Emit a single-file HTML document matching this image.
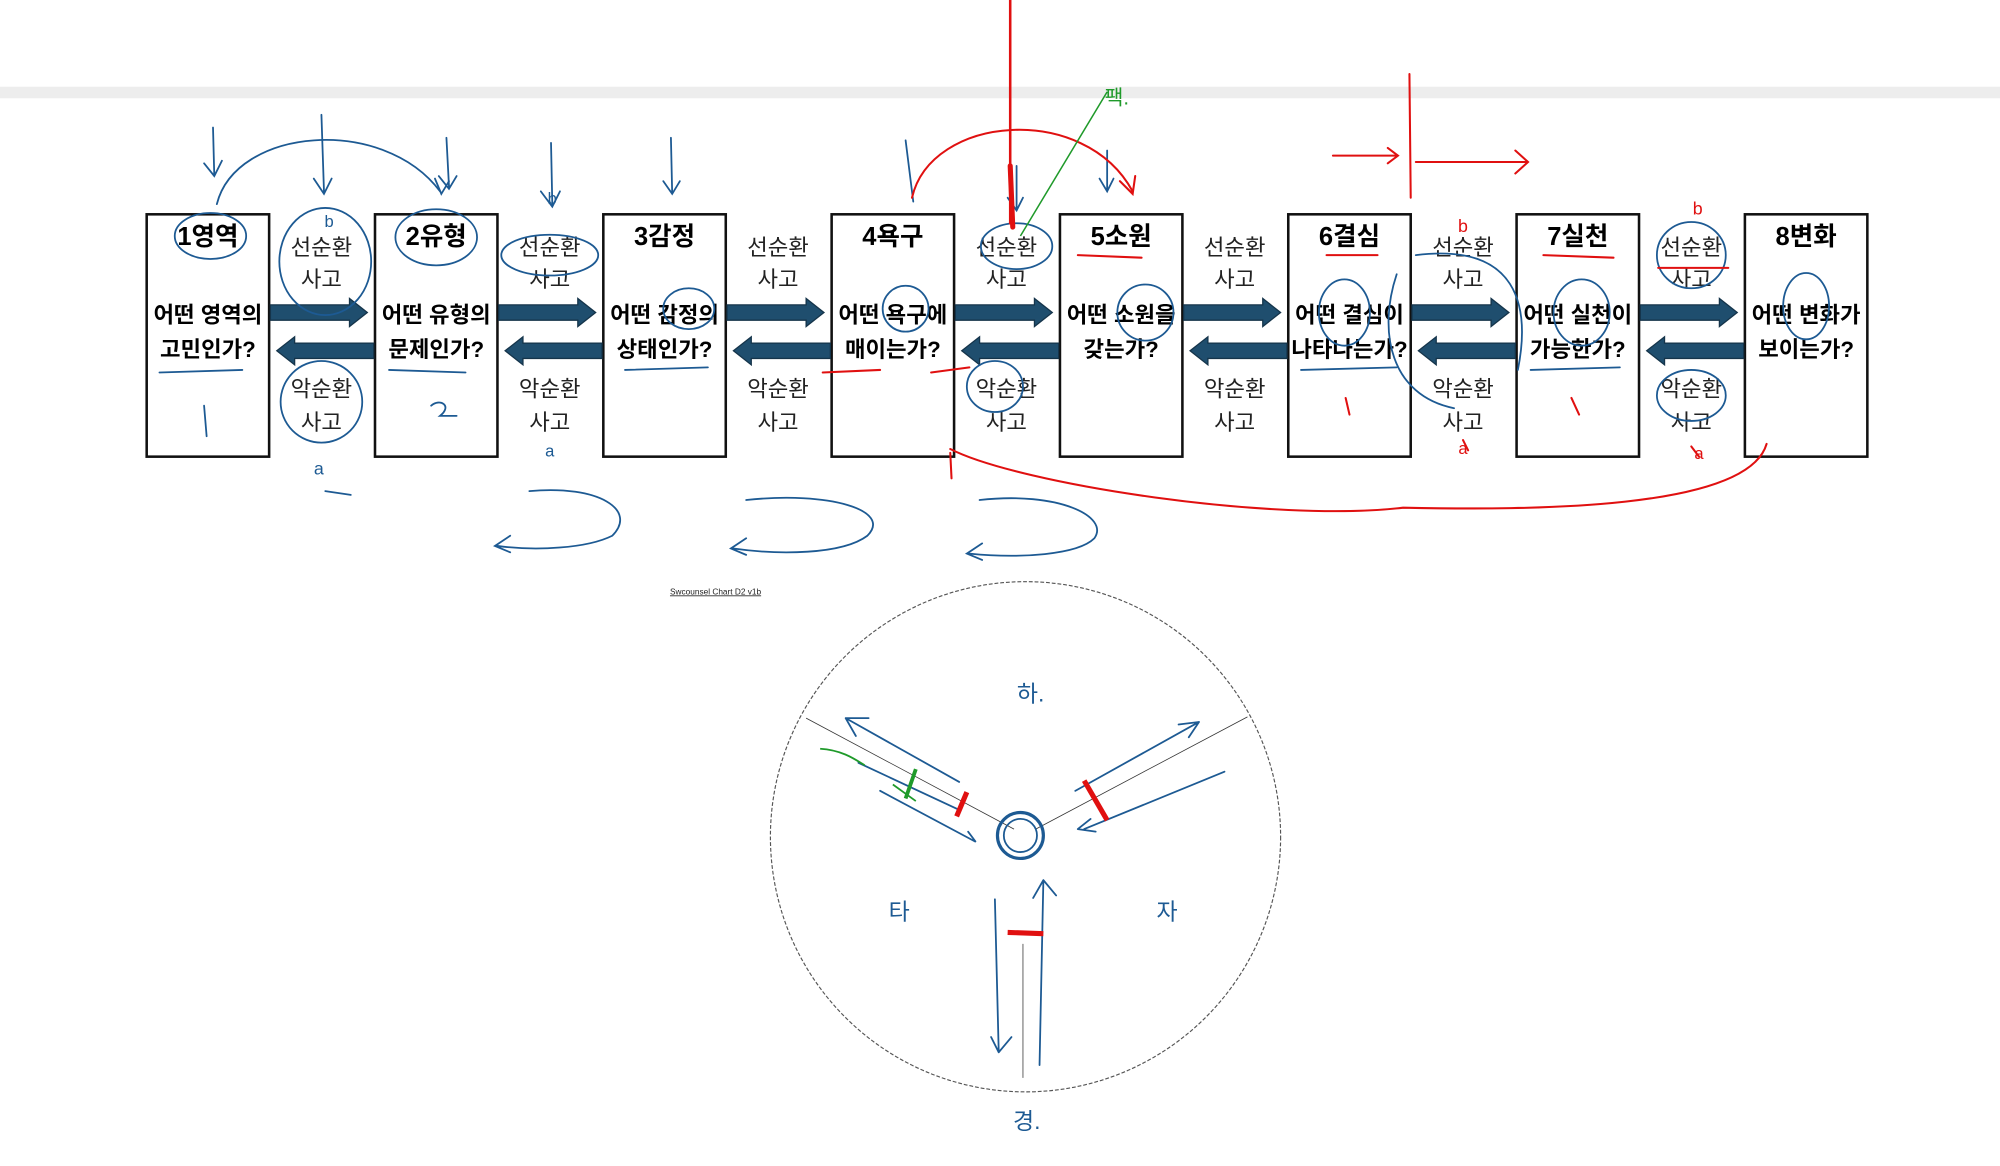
<!DOCTYPE html>
<html><head><meta charset="utf-8"><style>
html,body{margin:0;padding:0;background:#fff;}
svg{display:block;}
text{font-family:"Liberation Sans","Noto Sans CJK KR",sans-serif;}
.t{font-size:20px;font-weight:bold;fill:#000;text-anchor:middle;}
.q{font-size:17.5px;font-weight:bold;fill:#000;text-anchor:middle;}
.c{font-size:17.5px;fill:#222;text-anchor:middle;}
.b{fill:none;stroke:#1d5a93;stroke-width:1.4;stroke-linecap:round;}
.r{fill:none;stroke:#e01010;stroke-width:1.6;stroke-linecap:round;}
.hb{font-family:"Liberation Sans","Noto Sans CJK KR",sans-serif;fill:#1d5a93;font-size:18px;}
</style></head><body>
<svg width="2000" height="1166" viewBox="0 0 1568 914.1" xmlns="http://www.w3.org/2000/svg">
<defs>
<g id="ra"><path d="M0,-6 L62,-6 L62,-11 L76,0 L62,11 L62,6 L0,6 Z" fill="#1f4e6e" stroke="#15344a" stroke-width="1"/></g>
<g id="la"><path d="M76,-6 L14,-6 L14,-11 L0,0 L14,11 L14,6 L76,6 Z" fill="#1f4e6e" stroke="#15344a" stroke-width="1"/></g>
</defs>
<rect x="0" y="68" width="1568" height="9" fill="#ededed"/>

<!-- boxes -->
<g stroke="#111" stroke-width="2" fill="#fff">
<rect x="115" y="168" width="96" height="190"/>
<rect x="294" y="168" width="96" height="190"/>
<rect x="473" y="168" width="96" height="190"/>
<rect x="652" y="168" width="96" height="190"/>
<rect x="831" y="168" width="96" height="190"/>
<rect x="1010" y="168" width="96" height="190"/>
<rect x="1189" y="168" width="96" height="190"/>
<rect x="1368" y="168" width="96" height="190"/>
</g>
<g>
<text class="t" x="163" y="192">1영역</text><text class="q" x="163" y="253">어떤 영역의</text><text class="q" x="163" y="280">고민인가?</text>
<text class="t" x="342" y="192">2유형</text><text class="q" x="342" y="253">어떤 유형의</text><text class="q" x="342" y="280">문제인가?</text>
<text class="t" x="521" y="192">3감정</text><text class="q" x="521" y="253">어떤 감정의</text><text class="q" x="521" y="280">상태인가?</text>
<text class="t" x="700" y="192">4욕구</text><text class="q" x="700" y="253">어떤 욕구에</text><text class="q" x="700" y="280">매이는가?</text>
<text class="t" x="879" y="192">5소원</text><text class="q" x="879" y="253">어떤 소원을</text><text class="q" x="879" y="280">갖는가?</text>
<text class="t" x="1058" y="192">6결심</text><text class="q" x="1058" y="253">어떤 결심이</text><text class="q" x="1058" y="280">나타나는가?</text>
<text class="t" x="1237" y="192">7실천</text><text class="q" x="1237" y="253">어떤 실천이</text><text class="q" x="1237" y="280">가능한가?</text>
<text class="t" x="1416" y="192">8변화</text><text class="q" x="1416" y="253">어떤 변화가</text><text class="q" x="1416" y="280">보이는가?</text>
</g>
<!-- arrows and cycle labels -->
<g>
<use href="#ra" x="212" y="245"/><use href="#la" x="217" y="275"/>
<use href="#ra" x="391" y="245"/><use href="#la" x="396" y="275"/>
<use href="#ra" x="570" y="245"/><use href="#la" x="575" y="275"/>
<use href="#ra" x="749" y="245"/><use href="#la" x="754" y="275"/>
<use href="#ra" x="928" y="245"/><use href="#la" x="933" y="275"/>
<use href="#ra" x="1107" y="245"/><use href="#la" x="1112" y="275"/>
<use href="#ra" x="1286" y="245"/><use href="#la" x="1291" y="275"/>
</g>
<g>
<text class="c" x="252" y="200">선순환</text><text class="c" x="252" y="225">사고</text><text class="c" x="252" y="311">악순환</text><text class="c" x="252" y="337">사고</text>
<text class="c" x="431" y="200">선순환</text><text class="c" x="431" y="225">사고</text><text class="c" x="431" y="311">악순환</text><text class="c" x="431" y="337">사고</text>
<text class="c" x="610" y="200">선순환</text><text class="c" x="610" y="225">사고</text><text class="c" x="610" y="311">악순환</text><text class="c" x="610" y="337">사고</text>
<text class="c" x="789" y="200">선순환</text><text class="c" x="789" y="225">사고</text><text class="c" x="789" y="311">악순환</text><text class="c" x="789" y="337">사고</text>
<text class="c" x="968" y="200">선순환</text><text class="c" x="968" y="225">사고</text><text class="c" x="968" y="311">악순환</text><text class="c" x="968" y="337">사고</text>
<text class="c" x="1147" y="200">선순환</text><text class="c" x="1147" y="225">사고</text><text class="c" x="1147" y="311">악순환</text><text class="c" x="1147" y="337">사고</text>
<text class="c" x="1326" y="200">선순환</text><text class="c" x="1326" y="225">사고</text><text class="c" x="1326" y="311">악순환</text><text class="c" x="1326" y="337">사고</text>
</g>

<!-- blue handwriting -->
<g class="b">
<ellipse cx="165" cy="185" rx="28" ry="18"/><ellipse cx="255" cy="205" rx="36" ry="42"/><ellipse cx="252" cy="315" rx="32" ry="32"/>
<ellipse cx="342" cy="186" rx="32" ry="22"/><ellipse cx="431" cy="200" rx="38" ry="16"/>
<ellipse cx="797" cy="193" rx="28" ry="18"/><ellipse cx="780" cy="303" rx="22" ry="20"/>
<ellipse cx="898" cy="245" rx="22" ry="22"/><ellipse cx="1054" cy="245" rx="20" ry="26"/><ellipse cx="1240" cy="245" rx="22" ry="26"/>
<ellipse cx="1326" cy="200" rx="27" ry="26"/><ellipse cx="1326" cy="310" rx="27" ry="20"/><ellipse cx="1416" cy="240" rx="18" ry="26"/>
<ellipse cx="710" cy="242" rx="18" ry="18"/><ellipse cx="540" cy="242" rx="20" ry="16"/>
<path d="M170,160 C185,100 300,90 345,150"/><path d="M341,140 l5,12 l6,-10"/>
<path d="M167,100 L168,138 M160,128 l8,10 l6,-12"/>
<path d="M252,90 L254,150 M246,140 l8,12 l6,-12"/>
<path d="M350,108 L352,146 M344,138 l8,10 l6,-10"/>
<path d="M432,112 L433,160 M424,150 l9,12 l6,-12"/>
<path d="M526,108 L527,152 M520,142 l7,10 l6,-10"/>
<path d="M710,110 L716,158"/><path d="M797,130 L797,165 M790,155 l7,10 l5,-10"/><path d="M868,118 L868,150 M862,140 l6,10 l5,-10"/>
<path d="M415,385 C470,380 500,400 480,420 C460,430 420,432 390,428 M400,420 l-12,8 l12,5"/>
<path d="M585,392 C650,385 700,400 680,420 C660,435 610,435 575,430 M585,422 l-12,8 l12,5"/>
<path d="M768,392 C830,385 870,405 858,422 C845,435 800,438 760,434 M770,426 l-12,8 l12,5"/>
<path d="M1095,215 C1080,260 1090,310 1140,320 M1110,200 C1190,190 1200,240 1190,290"/>
<path d="M255,385 L275,388 M125,292 L190,290 M160,318 L162,342 M338,318 C345,312 355,318 345,326 L358,326"/>
<path d="M305,290 L365,292 M490,290 L555,288 M1020,290 L1095,288 M1200,290 L1270,288"/>
</g>
<g class="r">
<path d="M792,0 L792,175" stroke-width="2"/><path d="M792,130 L794,178" stroke-width="4"/>
<path d="M715,155 C730,90 850,80 888,150 M878,142 l10,10 l2,-14"/>
<path d="M745,355 L746,375 M745,352 C800,380 1000,410 1100,398 C1200,400 1370,400 1385,348"/>
<path d="M1045,122 L1095,122 M1088,116 l8,6 l-8,6"/>
<path d="M1105,58 L1106,155"/>
<path d="M1110,127 L1197,127 M1188,118 l10,9 l-10,9"/>
<path d="M845,200 L895,202 M1040,200 L1080,200 M1210,200 L1265,202 M1300,210 L1355,210"/>
<path d="M1055,312 L1058,325 M1232,312 L1238,325 M1147,345 l4,8 M1326,350 l6,8"/>
<path d="M645,292 L690,290 M730,292 L760,288"/>
</g>
<path d="M800,185 L868,72" stroke="#1f9a2a" stroke-width="1.2" fill="none"/>
<text x="866" y="82" fill="#1f9a2a" font-size="16" font-family="Liberation Sans, Noto Sans CJK KR, sans-serif">팩.</text>
<text x="1147" y="182" fill="#e01010" font-size="14" text-anchor="middle" font-family="Liberation Sans">b</text>
<text x="1331" y="168" fill="#e01010" font-size="14" text-anchor="middle" font-family="Liberation Sans">b</text>
<text x="1147" y="356" fill="#e01010" font-size="13" text-anchor="middle" font-family="Liberation Sans">a</text>
<text x="1332" y="360" fill="#e01010" font-size="13" text-anchor="middle" font-family="Liberation Sans">a</text>
<text x="250" y="372" fill="#1d5a93" font-size="14" text-anchor="middle" font-family="Liberation Sans">a</text>
<text x="431" y="358" fill="#1d5a93" font-size="13" text-anchor="middle" font-family="Liberation Sans">a</text>
<text x="258" y="178" fill="#1d5a93" font-size="13" text-anchor="middle" font-family="Liberation Sans">b</text>
<text x="433" y="160" fill="#1d5a93" font-size="13" text-anchor="middle" font-family="Liberation Sans">b</text>

<text x="561" y="466" font-size="6.5" text-anchor="middle" text-decoration="underline" font-family="Liberation Sans" fill="#222">Swcounsel Chart D2 v1b</text>

<!-- circle -->
<circle cx="804" cy="656" r="200" fill="none" stroke="#555" stroke-width="0.9" stroke-dasharray="3,1.5"/>
<g stroke="#333" stroke-width="0.6" fill="none">
<line x1="632" y1="563" x2="795" y2="650"/><line x1="978" y1="562" x2="812" y2="650"/><line x1="802" y1="740" x2="802" y2="845"/>
</g>
<g class="b" stroke-width="1.6">
<circle cx="800" cy="655" r="18" stroke-width="2.5"/><circle cx="800" cy="655" r="13"/>
<path d="M663,563 L752,613 M663,563 l18,0 M663,563 l8,14"/>
<path d="M673,598 L750,634 M690,620 L765,660 l-6,-8"/>
<path d="M940,566 L843,620 M940,566 l-16,2 M940,566 l-8,12"/>
<path d="M960,605 L850,650 M845,650 l10,-8 M845,650 l14,2"/>
<path d="M815,835 L818,690 M818,690 l-8,14 M818,690 l10,12"/>
<path d="M780,705 L783,825 M783,825 l-6,-12 M783,825 l10,-12"/>
</g>
<path d="M643,587 C660,588 670,595 678,600 M700,615 L718,628" stroke="#1f9a2a" stroke-width="1.4" fill="none"/>
<path d="M718,603 L710,626" stroke="#1f9a2a" stroke-width="3"/>
<g stroke="#e01010" stroke-width="4" fill="none">
<path d="M758,621 L750,640"/><path d="M850,612 L868,643"/><path d="M790,731 L818,732"/>
</g>
<text class="hb" x="808" y="550" text-anchor="middle">하.</text>
<text class="hb" x="705" y="721" text-anchor="middle">타</text>
<text class="hb" x="915" y="721" text-anchor="middle">자</text>
<text class="hb" x="805" y="885" text-anchor="middle">경.</text>
</svg>
</body></html>
